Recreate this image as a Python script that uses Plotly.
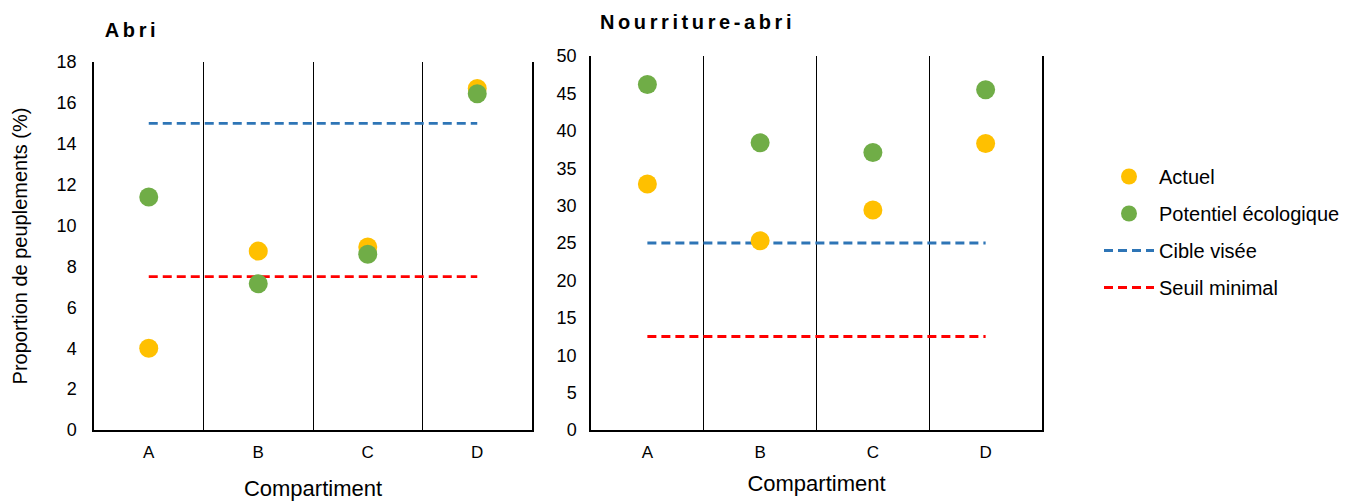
import plotly.graph_objects as go

categories = ["A", "B", "C", "D"]

abri_actuel = [4.0, 8.75, 8.95, 16.7]
abri_potentiel = [11.4, 7.15, 8.6, 16.45]
abri_cible = [15, 15, 15, 15]
abri_seuil = [7.5, 7.5, 7.5, 7.5]

na_actuel = [32.9, 25.3, 29.4, 38.3]
na_potentiel = [46.2, 38.4, 37.1, 45.5]
na_cible = [25, 25, 25, 25]
na_seuil = [12.5, 12.5, 12.5, 12.5]

abri_yticks = [0, 2, 4, 6, 8, 10, 12, 14, 16, 18]
na_yticks = [0, 5, 10, 15, 20, 25, 30, 35, 40, 45, 50]

YELLOW = "#FFC000"
GREEN = "#70AD47"
BLUE = "#2E75B6"
RED = "#FF0000"
FONT = "Liberation Sans, Arial, sans-serif"
DASH = "9px,5px"
LETTER_SPACING = 3.6

# plot-area geometry (pixels)
W, H = 1358, 501
PX0, PX1 = 94, 1042
PY_BOT, PY_TOP = 430, 56
PW, PH = PX1 - PX0, PY_BOT - PY_TOP


def px(x):
    return (x - PX0) / PW


def py(y):
    return (PY_BOT - y) / PH


fig = go.Figure()


def add_panel(actuel, potentiel, cible, seuil, xa, ya, show):
    fig.add_trace(go.Scatter(x=categories, y=cible, mode="lines", name="Cible visée",
                             line=dict(color=BLUE, width=2.8, dash=DASH),
                             xaxis=xa, yaxis=ya, showlegend=show, legendgroup="c", legendrank=3))
    fig.add_trace(go.Scatter(x=categories, y=seuil, mode="lines", name="Seuil minimal",
                             line=dict(color=RED, width=2.8, dash=DASH),
                             xaxis=xa, yaxis=ya, showlegend=show, legendgroup="d", legendrank=4))
    fig.add_trace(go.Scatter(x=categories, y=actuel, mode="markers", name="Actuel",
                             marker=dict(color=YELLOW, size=19),
                             xaxis=xa, yaxis=ya, showlegend=show, legendgroup="a", legendrank=1))
    fig.add_trace(go.Scatter(x=categories, y=potentiel, mode="markers", name="Potentiel écologique",
                             marker=dict(color=GREEN, size=19),
                             xaxis=xa, yaxis=ya, showlegend=show, legendgroup="b", legendrank=2))


add_panel(abri_actuel, abri_potentiel, abri_cible, abri_seuil, "x", "y", True)
add_panel(na_actuel, na_potentiel, na_cible, na_seuil, "x2", "y2", False)

xcommon = dict(type="category", categoryorder="array", categoryarray=categories,
               range=[-0.5, 3.5], tickson="boundaries", showgrid=True,
               gridcolor="black", gridwidth=1.3, showline=True, linecolor="black",
               linewidth=1.5, ticks="", tickfont=dict(size=17, color="black"),
               zeroline=False, fixedrange=True, automargin=False, ticklabelstandoff=6)
ycommon = dict(showgrid=False, showline=True, linecolor="black", linewidth=1.5,
               mirror=True, ticks="", zeroline=False, automargin=False,
               tickfont=dict(size=18, color="black"))

fig.update_layout(
    width=W, height=H,
    margin=dict(l=PX0, r=W - PX1, t=PY_TOP, b=H - PY_BOT, autoexpand=False),
    paper_bgcolor="white", plot_bgcolor="white",
    font=dict(family=FONT, color="black"),
    xaxis=dict(xcommon, domain=[px(94), px(532)], anchor="y",
               title=dict(text="Compartiment", font=dict(size=22, color="black"), standoff=19)),
    xaxis2=dict(xcommon, domain=[px(591), px(1042)], anchor="y2",
                title=dict(text="Compartiment", font=dict(size=22, color="black"), standoff=14)),
    yaxis=dict(ycommon, domain=[py(430), py(62)], anchor="x",
               range=[0, 18], tickvals=abri_yticks, ticklabelstandoff=12,
               title=dict(text="Proportion de peuplements (%)", font=dict(size=20, color="black"),
                          standoff=24)),
    yaxis2=dict(ycommon, domain=[py(430), py(56)], anchor="x2",
                range=[0, 50], tickvals=na_yticks, ticklabelstandoff=9),
    legend=dict(x=px(1099), y=py(157), xanchor="left", yanchor="top",
                font=dict(size=20, color="black"), traceorder="grouped",
                tracegroupgap=8, itemwidth=50, bgcolor="rgba(0,0,0,0)"),
    showlegend=True,
    annotations=[
        dict(text="<b>Abri</b>", x=px(103 + 4 * LETTER_SPACING / 2), y=py(30),
             xref="paper", yref="paper",
             xanchor="left", yanchor="middle", showarrow=False,
             font=dict(size=20, color="black")),
        dict(text="<b>Nourriture-abri</b>", x=px(598 + 15 * LETTER_SPACING / 2), y=py(22),
             xref="paper", yref="paper",
             xanchor="left", yanchor="middle", showarrow=False,
             font=dict(size=20, color="black")),
    ],
)

# widen the letter spacing of the two panel titles, as in the reference
post = """
document.querySelectorAll('.annotation-text').forEach(function(e){
  e.style.letterSpacing = '%spx';
});
""" % LETTER_SPACING

fig.write_html("out.html", post_script=post)
